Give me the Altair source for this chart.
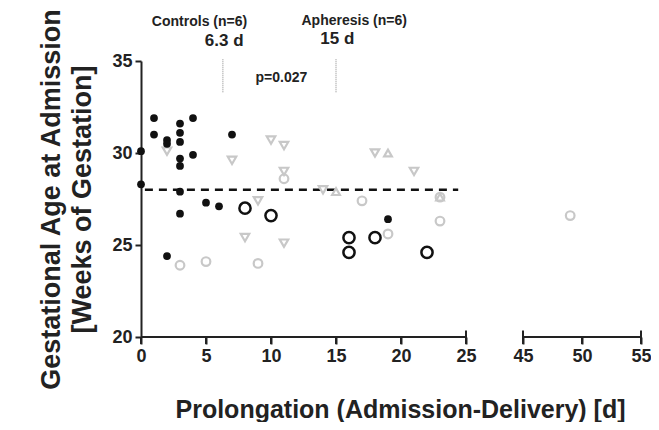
import altair as alt
import pandas as pd

# ---- data ----
ctrl_x = [0, 0, 1, 1, 2, 2, 3, 3, 3, 3, 3, 3, 3, 4, 4, 2, 5, 6, 7, 19]
ctrl_y = [30.1, 28.3, 31.9, 31.0, 30.7, 30.5, 31.6, 31.1, 30.6, 29.7, 29.3, 27.9, 26.7,
          31.9, 29.9, 24.4, 27.3, 27.1, 31.0, 26.4]

gcirc_x = [3, 5, 9, 11, 17, 19, 23, 23, 49]
gcirc_y = [23.9, 24.1, 24.0, 28.6, 27.4, 25.6, 27.6, 26.3, 26.6]

tdown_x = [2, 7, 10, 11, 11, 14, 9, 8, 11, 18, 21]
tdown_y = [30.1, 29.6, 30.7, 30.4, 29.0, 28.0, 27.4, 25.4, 25.1, 30.0, 29.0]

tup_x = [15, 19, 23]
tup_y = [27.9, 30.0, 27.6]

aph_x = [8, 10, 16, 16, 18, 22]
aph_y = [27.0, 26.6, 25.4, 24.6, 25.4, 24.6]

x_ticks = [0, 5, 10, 15, 20, 25, 45, 50, 55]
y_ticks = [20, 25, 30, 35]
axis_seg_start = [0, 45]
axis_seg_end = [25, 55]
axis_caps = [25, 45, 55]

median_x = [6.3, 15]
median_y0 = [33.3, 33.3]
median_y1 = [35.1, 35.1]

ref_line_y = 28.0
ref_line_x0 = 0.3
ref_line_x1 = 24.4

ann_text = ["Controls (n=6)", "6.3 d", "Apheresis (n=6)", "15 d", "p=0.027"]
ann_x = [4.5, 6.4, 16.4, 15.1, 10.8]
ann_y = [37.1, 36.1, 37.2, 36.2, 34.1]
ann_size = [14, 17, 14, 17, 14]

FONT = "Liberation Sans"
INK = "#222222"
GRAY = "#c8c8c8"

# ---- scales / encodings ----
x_scale = alt.Scale(domain=[0, 25, 45, 55], range=[0, 325, 382, 500], nice=False, zero=False)
y_scale = alt.Scale(domain=[20, 35], nice=False, zero=False)

x_axis = alt.Axis(values=x_ticks, domain=False, grid=False, ticks=True, tickWidth=2, tickSize=7,
                  tickColor=INK, labelFont=FONT, labelFontSize=18, labelFontWeight="bold",
                  labelColor=INK, labelPadding=3, labelFlush=False,
                  title="Prolongation (Admission-Delivery) [d]", titleFont=FONT,
                  titleFontSize=25, titleFontWeight="bold", titleColor=INK,
                  titleX=259, titleY=80, titleBaseline="alphabetic", titleAlign="center")
y_axis = alt.Axis(values=y_ticks, grid=False, domainWidth=2, domainColor=INK, ticks=True,
                  tickWidth=2, tickSize=6, tickColor=INK, labelFont=FONT, labelFontSize=18,
                  labelFontWeight="bold", labelColor=INK, labelPadding=3,
                  title=["Gestational Age at Admission", "[Weeks of Gestation]"],
                  titleFont=FONT, titleFontSize=27, titleFontWeight="bold", titleColor=INK,
                  titleLineHeight=31, titleX=-76, titleY=138, titleAngle=270,
                  titleAlign="center", titleBaseline="bottom")

X = alt.X("x:Q", scale=x_scale, axis=x_axis)
Y = alt.Y("y:Q", scale=y_scale, axis=y_axis)


def pts(xs, ys):
    return pd.DataFrame({"x": xs, "y": ys})


ctrl = alt.Chart(pts(ctrl_x, ctrl_y)).mark_point(
    shape="circle", filled=True, color="#111111", size=60, opacity=1).encode(x=X, y=Y)
gcirc = alt.Chart(pts(gcirc_x, gcirc_y)).mark_point(
    shape="circle", filled=False, color=GRAY, size=75, strokeWidth=2.2, opacity=1).encode(x=X, y=Y)
tdown = alt.Chart(pts(tdown_x, tdown_y)).mark_point(
    shape="triangle-down", filled=False, color=GRAY, size=72, strokeWidth=2.2, opacity=1).encode(x=X, y=Y)
tup = alt.Chart(pts(tup_x, tup_y)).mark_point(
    shape="triangle-up", filled=False, color=GRAY, size=60, strokeWidth=2.2, opacity=1).encode(x=X, y=Y)
aph = alt.Chart(pts(aph_x, aph_y)).mark_point(
    shape="circle", filled=False, color="#111111", size=125, strokeWidth=2.5, opacity=1).encode(x=X, y=Y)

seg_df = pd.DataFrame({"x": axis_seg_start, "x2": axis_seg_end, "y": [20.0, 20.0]})
axis_line = alt.Chart(seg_df).mark_rule(stroke=INK, strokeWidth=2, opacity=1).encode(
    x=X, x2=alt.X2("x2:Q"), y=Y)

cap_df = pd.DataFrame({"x": axis_caps, "y": [20.0] * 3, "y2": [20.35] * 3})
axis_caps_l = alt.Chart(cap_df).mark_rule(stroke=INK, strokeWidth=2, opacity=1).encode(
    x=X, y=Y, y2=alt.Y2("y2:Q"))

tick_df = pd.DataFrame({"x": x_ticks, "y": [20.0] * len(x_ticks), "y2": [19.62] * len(x_ticks)})
axis_ticks_l = alt.Chart(tick_df).mark_rule(stroke=INK, strokeWidth=2, opacity=1).encode(
    x=X, y=Y, y2=alt.Y2("y2:Q"))

ref_df = pd.DataFrame({"x": [ref_line_x0], "x2": [ref_line_x1], "y": [ref_line_y]})
ref_line = alt.Chart(ref_df).mark_rule(color="#111111", strokeWidth=2.5, strokeDash=[8, 6]).encode(
    x=X, x2=alt.X2("x2:Q"), y=Y)

med_df = pd.DataFrame({"x": median_x, "y": median_y0, "y2": median_y1})
med_lines = alt.Chart(med_df).mark_rule(color="#888888", strokeWidth=1, strokeDash=[1, 1]).encode(
    x=X, y=Y, y2=alt.Y2("y2:Q"))

ann_df = pd.DataFrame({"t": ann_text, "x": ann_x, "y": ann_y, "s": ann_size})
ann = alt.Chart(ann_df).mark_text(font=FONT, fontWeight="bold", color=INK, align="center",
                                  baseline="middle").encode(
    x=X, y=Y, text="t:N", size=alt.Size("s:Q", scale=None, legend=None))

chart = alt.layer(ref_line, med_lines, gcirc, tdown, tup, aph, ctrl, ann,
                  axis_line, axis_caps_l, axis_ticks_l).properties(
    width=500, height=276,
    autosize=alt.AutoSizeParams(type="none"),
    padding={"left": 133, "top": 53, "right": 10, "bottom": 85},
    background="white",
).configure_view(stroke="transparent", strokeWidth=0)

chart.save("out.html", embed_options={"renderer": "svg", "actions": False})
